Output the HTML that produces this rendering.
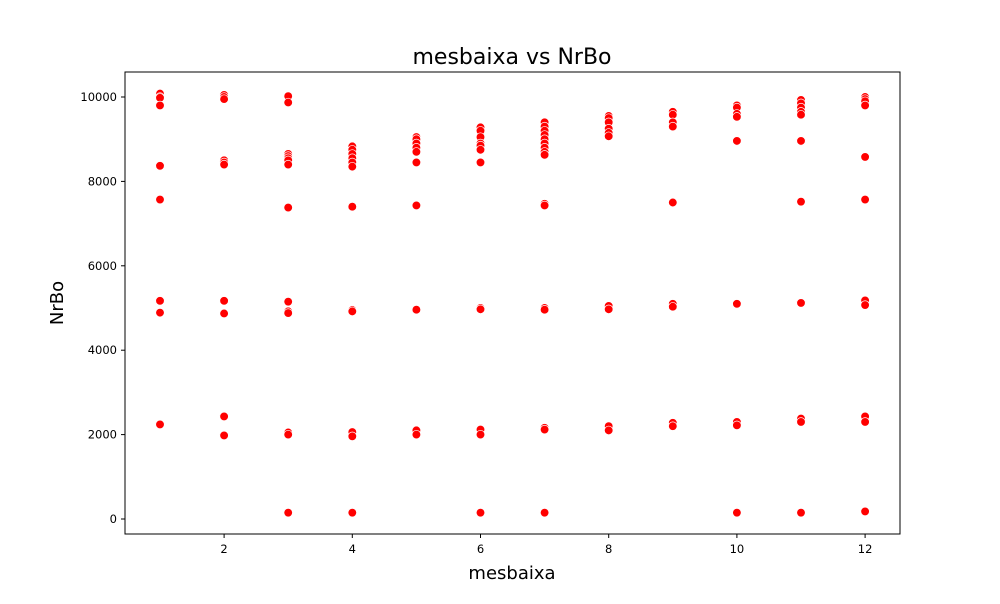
<!DOCTYPE html>
<html><head><meta charset="utf-8"><style>
body{margin:0;background:#fff;font-family:"DejaVu Sans","Liberation Sans",sans-serif}
</style></head><body>
<svg id="chart" width="1000" height="600" xmlns="http://www.w3.org/2000/svg" font-family="DejaVu Sans, Liberation Sans, sans-serif">
<text x="512" y="64" font-size="22" text-anchor="middle">mesbaixa vs NrBo</text>
<g id="ticks"></g>
<g id="pts"></g>
<rect x="125" y="72" width="775" height="462" fill="none" stroke="#000" stroke-width="1"/>
<text x="512" y="579" font-size="18" text-anchor="middle">mesbaixa</text>
<text x="63" y="303" font-size="18" text-anchor="middle" transform="rotate(-90 63 303)">NrBo</text>
</svg>
<script>
const xTicks=[2,4,6,8,10,12];
const yTicks=[0,2000,4000,6000,8000,10000];
const months=[1,2,3,4,5,6,7,8,9,10,11,12];
const nrbo=[
[10080,10000,9980,9800,8370,7570,5170,4890,2240],
[10050,10000,9950,8500,8450,8400,5170,4870,2430,1980],
[10020,9870,8650,8600,8550,8500,8400,7380,5150,4920,4880,2050,2000,150],
[8830,8750,8650,8550,8450,8350,7400,4950,4920,2060,1960,150],
[9050,9000,8900,8800,8700,8450,7430,4960,2100,2000],
[9280,9200,9050,8900,8850,8750,8450,5000,4970,2120,2000,150],
[9400,9300,9200,9100,9000,8900,8800,8700,8630,7470,7430,5000,4960,2160,2120,150],
[9550,9500,9400,9250,9150,9070,5050,4970,2200,2100],
[9650,9580,9400,9300,7500,5100,5030,2280,2200],
[9800,9750,9600,9530,8960,5100,2300,2220,150],
[9930,9850,9750,9650,9580,8960,7520,5120,2380,2300,150],
[10000,9950,9900,9800,8580,7570,5180,5070,2430,2300,180]
];
const xs=v=>160+(v-1)*64.1;
const ys=v=>519-v*0.0422;
const NS="http://www.w3.org/2000/svg";
const tg=document.getElementById('ticks'),pg=document.getElementById('pts');
function mk(t,a){const e=document.createElementNS(NS,t);for(const k in a)e.setAttribute(k,a[k]);return e;}
xTicks.forEach(t=>{
 const l=mk('line',{x1:xs(t),x2:xs(t),y1:534,y2:538,stroke:'#000'});
 
 
 tg.appendChild(l);
 const tx=mk('text',{x:xs(t),y:553,'font-size':11.5,'text-anchor':'middle'});tx.textContent=t;
 
 
 tg.appendChild(tx);
});
yTicks.forEach(t=>{
 const l=mk('line',{x1:121,x2:125,y1:ys(t),y2:ys(t),stroke:'#000'});
 
 
 tg.appendChild(l);
 const tx=mk('text',{x:117,y:ys(t)+4,'font-size':11.5,'text-anchor':'end'});tx.textContent=t;
 
 
 tg.appendChild(tx);
});
months.forEach((m,i)=>{
 nrbo[i].forEach(v=>{
  const c=mk('circle',{cx:xs(m),cy:ys(v),r:4.3,fill:'#ff0000',stroke:'#fff','stroke-width':0.7});
  
  
  pg.appendChild(c);
 });
});
</script>
</body></html>
